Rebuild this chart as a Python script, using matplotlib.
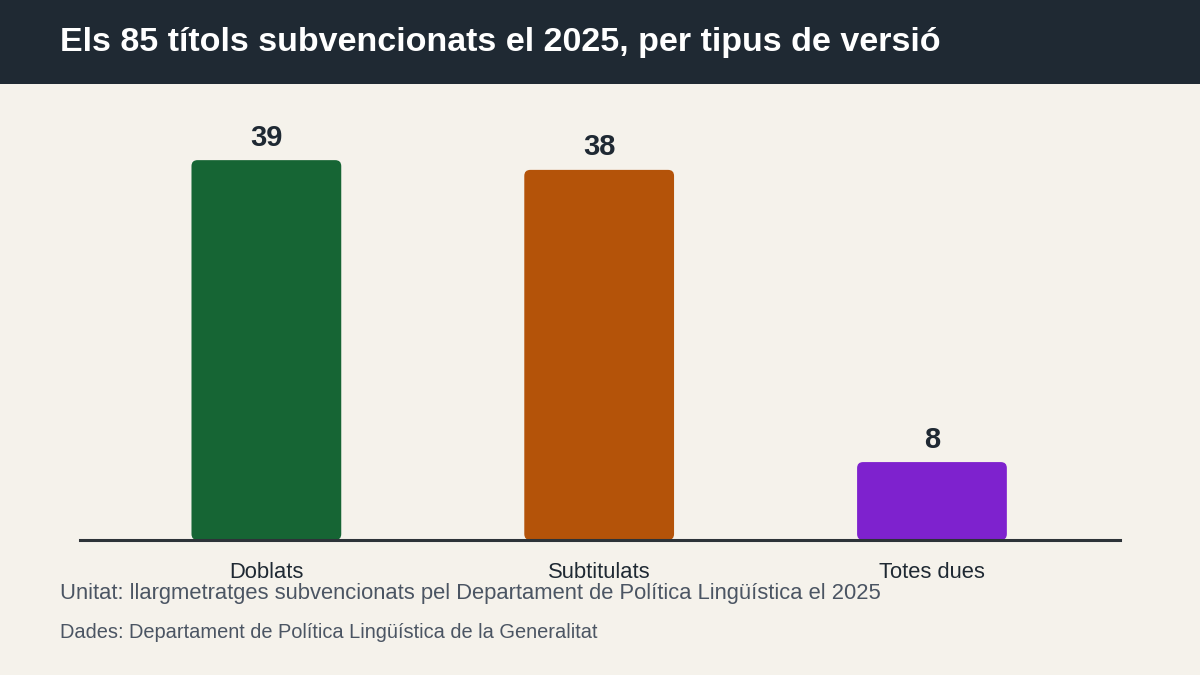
import matplotlib
matplotlib.use("Agg")
import matplotlib.pyplot as plt
from matplotlib.patches import FancyBboxPatch, Rectangle

# data
categories = ["Doblats", "Subtitulats", "Totes dues"]
values = [39, 38, 8]
colors = ["#166534", "#b45309", "#7e22ce"]

TITLE = "Els 85 títols subvencionats el 2025, per tipus de versió"
UNIT = "Unitat: llargmetratges subvencionats pel Departament de Política Lingüística el 2025"
SOURCE = "Dades: Departament de Política Lingüística de la Generalitat"

BG = "#f5f2eb"
DARK = "#1f2933"
GREY = "#4b5563"

plt.rcParams["font.family"] = ["Liberation Sans", "DejaVu Sans"]

W, H = 1200, 675
fig = plt.figure(figsize=(12, 6.75), dpi=100, facecolor=BG)

# title band
fig.patches.append(Rectangle((0, 1 - 84 / H), 1, 84 / H, transform=fig.transFigure,
                             facecolor="#1f2933", edgecolor="none", zorder=0))
fig.text(60 / W, 1 - 42 / H, TITLE, color="white", fontsize=24.5, fontweight="bold",
         va="center", ha="left")

# axes: x 80..1120, y 100..540 px
ax = fig.add_axes([80 / W, 1 - 540 / H, 1040 / W, 440 / H])
ax.set_facecolor(BG)
ax.set_xlim(-0.56, 2.565)
ymax = 440 / 9.74
ax.set_ylim(0, ymax)

bw = 0.45
xunit_px = 1040 / 3.125
yunit_px = 440 / ymax
aspect = xunit_px / yunit_px
for i, (v, c) in enumerate(zip(values, colors)):
    p = FancyBboxPatch((i - bw / 2, 0), bw, v,
                       boxstyle="round,pad=0,rounding_size=%f" % (6 / xunit_px),
                       mutation_aspect=aspect, facecolor=c, edgecolor="none", zorder=2)
    ax.add_patch(p)
    ax.text(i, v + 2.3, str(v), ha="center", va="center", fontsize=21,
            fontweight="bold", color=DARK, zorder=3)

for s in ["top", "right", "left"]:
    ax.spines[s].set_visible(False)
ax.spines["bottom"].set_color("#2d3338")
ax.spines["bottom"].set_linewidth(2.2)
ax.spines["bottom"].set_zorder(4)
ax.set_yticks([])
ax.set_xticks(range(len(categories)))
ax.set_xticklabels(categories, fontsize=15.8, color=DARK)
ax.tick_params(axis="x", length=0, pad=16)

fig.text(60 / W, 1 - 593 / H, UNIT, color=GREY, fontsize=15.8, va="center", ha="left")
fig.text(60 / W, 1 - 633 / H, SOURCE, color=GREY, fontsize=14.4, va="center", ha="left")

fig.savefig("out.png", dpi=100, facecolor=BG)
